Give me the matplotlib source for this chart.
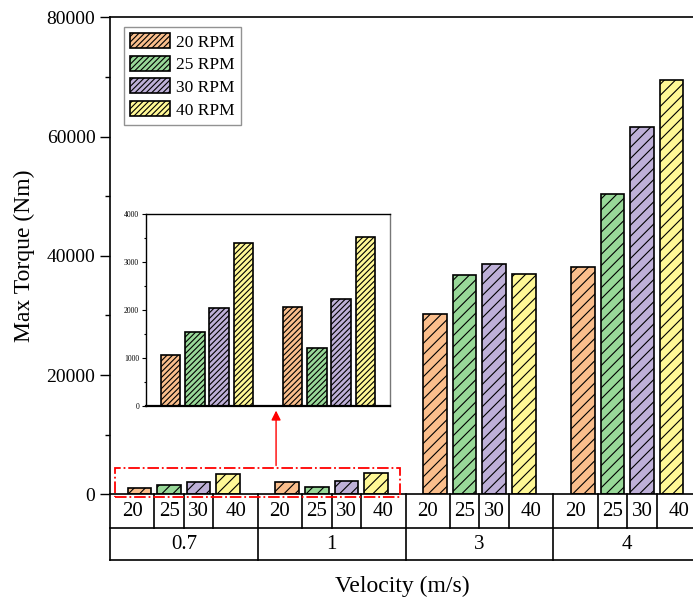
import numpy as np
import matplotlib
matplotlib.use('Agg')
import matplotlib.pyplot as plt
from matplotlib.patches import Rectangle
from matplotlib.transforms import blended_transform_factory

# DATA
velocities = ['0.7', '1', '3', '4']
rpm_labels = ['20', '25', '30', '40']
torque_20 = [1050, 2070, 30200, 38100]
torque_25 = [1550, 1200, 36700, 50400]
torque_30 = [2050, 2240, 38600, 61600]
torque_40 = [3400, 3530, 36900, 69500]
series = [torque_20, torque_25, torque_30, torque_40]
names = ['20 RPM', '25 RPM', '30 RPM', '40 RPM']
colors = ['#FABE8C', '#98D898', '#BEB0D8', '#FFF896']

plt.rcParams['font.family'] = ['Liberation Serif', 'DejaVu Serif']
plt.rcParams['hatch.linewidth'] = 0.8

fig = plt.figure(figsize=(6.93, 6.0), dpi=100)
# axes runs a bit past the right edge, like the cropped original
ax = fig.add_axes([110/693, 1-494.3/600, 591/693, 477/600])

group_w = 5
bar_w = 0.8
for k in range(4):
    x = np.arange(len(velocities)) * group_w + k + 1
    ax.bar(x, series[k], bar_w, color=colors[k], edgecolor='black',
           linewidth=1.2, hatch='///', label=names[k])

ax.set_xlim(0, len(velocities) * group_w)
ax.set_ylim(0, 80000)
ax.set_yticks(np.arange(0, 80001, 20000))
ax.set_yticks(np.arange(10000, 80000, 20000), minor=True)
ax.tick_params(axis='y', which='major', direction='out', length=7, width=1, labelsize=14)
ax.tick_params(axis='y', which='minor', direction='out', length=3.5, width=1)
ax.set_xticks([])
for s in ax.spines.values():
    s.set_linewidth(1.2)
ax.set_ylabel('Max Torque (Nm)', fontsize=17, labelpad=8)

# two row label table under the axis
tr = blended_transform_factory(ax.transData, ax.transAxes)
r1 = -34/477
r2 = -66/477
nx = len(velocities) * group_w
ax.plot([0, nx], [r1, r1], color='black', lw=1.2, transform=tr, clip_on=False)
ax.plot([0, nx], [r2, r2], color='black', lw=1.2, transform=tr, clip_on=False)
cells = [0, 1.5, 2.5, 3.5, 5]
for g, v in enumerate(velocities):
    g0 = g * group_w
    ax.plot([g0, g0], [0, r2], color='black', lw=1.2, transform=tr, clip_on=False)
    for b in cells[1:-1]:
        ax.plot([g0 + b, g0 + b], [0, r1], color='black', lw=1.2, transform=tr, clip_on=False)
    for j, lab in enumerate(rpm_labels):
        xc = g0 + (cells[j] + cells[j + 1]) / 2
        ax.text(xc, r1 / 2, lab, transform=tr, ha='center', va='center', fontsize=15)
    ax.text(g0 + group_w / 2, (r1 + r2) / 2, v, transform=tr, ha='center', va='center', fontsize=15)
ax.text((402 - 110) / 591, -92/477, 'Velocity (m/s)', transform=ax.transAxes,
        ha='center', va='center', fontsize=17)

leg = ax.legend(loc='upper left', bbox_to_anchor=(124/693, 1-27/600), bbox_transform=fig.transFigure,
                borderaxespad=0, fontsize=12.5, frameon=True, fancybox=False, edgecolor='#777777',
                handlelength=2.3, handleheight=0.95, labelspacing=0.3, handletextpad=0.35,
                borderpad=0.35)
leg.get_frame().set_linewidth(1.0)
for p in leg.get_patches():
    p.set_hatch('//////')

# zoom box and arrow
ax.add_patch(Rectangle((0.17, -500), 9.66, 4860, fill=False, edgecolor='red',
                       linestyle='-.', linewidth=1.3, clip_on=False, zorder=5))
ax.annotate('', xy=(5.62, 14500), xytext=(5.62, 4360),
            arrowprops=dict(arrowstyle='-|>', color='red', lw=1.0, mutation_scale=14))

# inset
axi = fig.add_axes([146/693, 1-405.7/600, 244/693, 191.4/600])
for k in range(4):
    x = np.arange(2) * group_w + k + 1
    axi.bar(x, series[k][:2], bar_w, color=colors[k], edgecolor='black',
            linewidth=1.2, hatch='//////')
axi.set_xlim(0, 10)
axi.set_ylim(0, 4000)
axi.set_xticks([])
axi.set_yticks(np.arange(0, 4001, 1000))
axi.set_yticks(np.arange(500, 4000, 1000), minor=True)
axi.tick_params(axis='y', which='major', direction='out', length=3, width=0.8, labelsize=5.5, pad=2)
axi.tick_params(axis='y', which='minor', direction='out', length=1.5, width=0.8)
axi.spines['left'].set_linewidth(1.0)
axi.spines['top'].set_linewidth(1.0)
axi.spines['bottom'].set_linewidth(1.6)
axi.spines['right'].set_linewidth(1.0)
axi.spines['right'].set_color('#777777')

fig.savefig('out.png', dpi=100)
